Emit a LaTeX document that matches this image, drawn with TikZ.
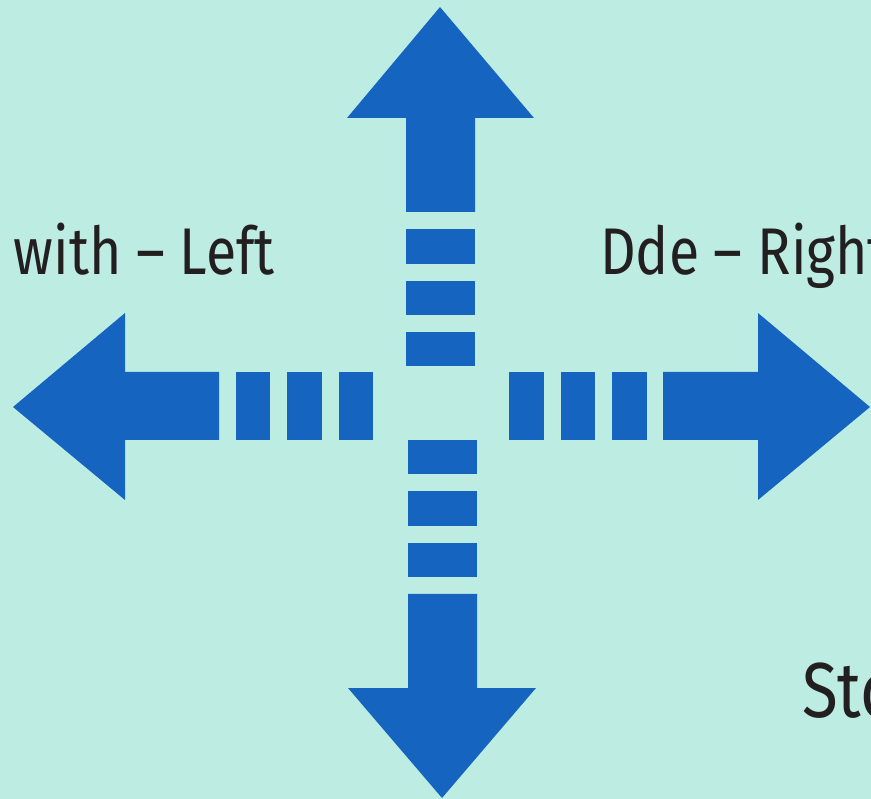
\documentclass[tikz,border=0pt]{standalone}
\usepackage{fontspec}
\setmainfont{Fira Sans}[FakeStretch=0.84]
\definecolor{bg}{HTML}{BDEDE2}
\definecolor{arrowblue}{HTML}{1565C0}
\definecolor{ink}{HTML}{231F20}
\begin{document}
\begin{tikzpicture}[x=1pt,y=-1pt,
  blk/.style={fill=arrowblue,draw=none},
  lbl/.style={text=ink,font=\fontsize{66}{70}\selectfont\upshape,inner sep=0pt}]
\useasboundingbox (0,0) rectangle (871,799);
\fill[bg] (0,0) rectangle (871,799);
% up arrow
\fill[blk] (440,7) -- (534,118) -- (475,118) -- (475,212) -- (406,212) -- (406,118) -- (347,118) -- cycle;
\fill[blk] (406,229) rectangle (475,264);
\fill[blk] (406,281) rectangle (475,315);
\fill[blk] (406,332) rectangle (475,366);
% down arrow
\fill[blk] (408,440) rectangle (477,474);
\fill[blk] (408,491) rectangle (477,526);
\fill[blk] (408,543) rectangle (477,577);
\fill[blk] (408,594) -- (477,594) -- (477,688) -- (536,688) -- (442,798) -- (348,688) -- (408,688) -- cycle;
% left arrow
\fill[blk] (13,407) -- (125,313) -- (125,372) -- (219,372) -- (219,440) -- (125,440) -- (125,500) -- cycle;
\fill[blk] (236,372) rectangle (270,440);
\fill[blk] (287,372) rectangle (322,440);
\fill[blk] (339,372) rectangle (373,440);
% right arrow
\fill[blk] (509,372) rectangle (544,440);
\fill[blk] (561,372) rectangle (595,440);
\fill[blk] (612,372) rectangle (647,440);
\fill[blk] (663,372) -- (758,372) -- (758,313) -- (870,407) -- (758,500) -- (758,440) -- (663,440) -- cycle;
% labels
\node[lbl,anchor=base east] (left) at (275,275) {with -- Left};
\node[lbl,anchor=base west] (right) at (600,275) {Dde -- Right};
\node[lbl,anchor=base west,font=\fontsize{78}{80}\selectfont] (sto) at (802,717) {Sto};
\end{tikzpicture}
\end{document}
